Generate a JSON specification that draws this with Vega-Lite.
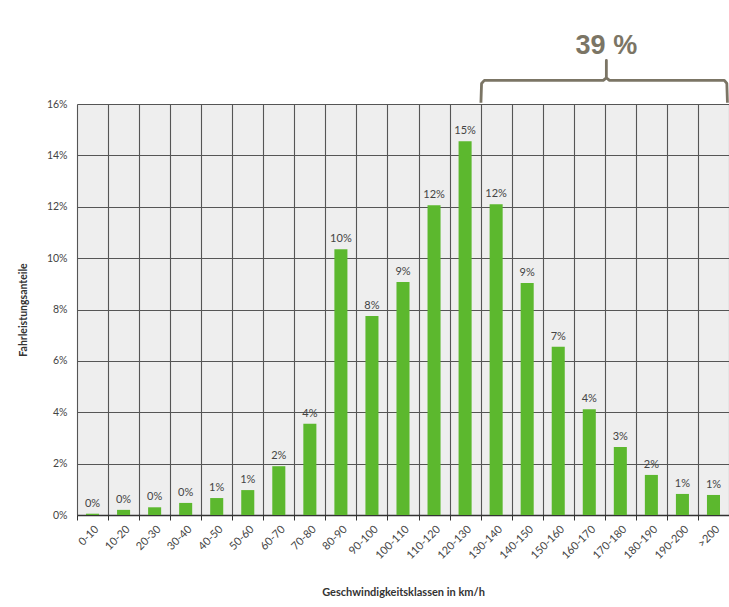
{
  "$schema": "https://vega.github.io/schema/vega-lite/v6.json",
  "width": 652,
  "height": 411,
  "autosize": {"type": "none"},
  "padding": {"left": 77, "top": 104, "right": 0, "bottom": 92},
  "background": "white",
  "config": {
    "font": "Lato",
    "view": {"fill": "#eeeeee", "stroke": null}
  },
  "resolve": {"scale": {"x": "independent"}},
  "layer": [
    {
      "data": {
        "values": [
          {"klasse": "0-10", "anteil": 0.0005},
          {"klasse": "10-20", "anteil": 0.002},
          {"klasse": "20-30", "anteil": 0.003},
          {"klasse": "30-40", "anteil": 0.0047},
          {"klasse": "40-50", "anteil": 0.0066},
          {"klasse": "50-60", "anteil": 0.0097},
          {"klasse": "60-70", "anteil": 0.019},
          {"klasse": "70-80", "anteil": 0.0355},
          {"klasse": "80-90", "anteil": 0.1035},
          {"klasse": "90-100", "anteil": 0.0775},
          {"klasse": "100-110", "anteil": 0.0907},
          {"klasse": "110-120", "anteil": 0.1206},
          {"klasse": "120-130", "anteil": 0.1455},
          {"klasse": "130-140", "anteil": 0.121},
          {"klasse": "140-150", "anteil": 0.0903},
          {"klasse": "150-160", "anteil": 0.0655},
          {"klasse": "160-170", "anteil": 0.0412},
          {"klasse": "170-180", "anteil": 0.0265},
          {"klasse": "180-190", "anteil": 0.0156},
          {"klasse": "190-200", "anteil": 0.0082},
          {"klasse": ">200", "anteil": 0.0078}
        ]
      },
      "encoding": {
        "x": {
          "field": "klasse",
          "type": "nominal",
          "sort": null,
          "scale": {"paddingInner": 0, "paddingOuter": 0},
          "axis": {
            "title": "Geschwindigkeitsklassen in km/h",
            "tickBand": "extent",
            "grid": true,
            "gridColor": "#555555",
            "gridWidth": 1.1,
            "ticks": true,
            "tickSize": 5,
            "tickColor": "#333333",
            "domainColor": "#333333",
            "domainWidth": 1.5,
            "labelAngle": -45,
            "labelFontSize": 11,
            "labelColor": "#444444",
            "labelPadding": 3,
            "titleFontSize": 11,
            "titleFontWeight": "bold",
            "titleColor": "#333333",
            "titlePadding": 26
          }
        },
        "y": {
          "field": "anteil",
          "type": "quantitative",
          "scale": {"domain": [0, 0.16], "nice": false},
          "axis": {
            "title": "Fahrleistungsanteile",
            "values": [0, 0.02, 0.04, 0.06, 0.08, 0.1, 0.12, 0.14, 0.16],
            "format": ".0%",
            "grid": true,
            "gridColor": "#555555",
            "gridWidth": 1.1,
            "ticks": false,
            "domain": false,
            "labelFontSize": 10.5,
            "labelColor": "#444444",
            "labelPadding": 10,
            "titleFontSize": 10.5,
            "titleFontWeight": "bold",
            "titleColor": "#333333",
            "titlePadding": 18
          }
        }
      },
      "layer": [
        {"mark": {"type": "bar", "color": "#5cb82e", "width": {"band": 0.42}}},
        {
          "mark": {"type": "text", "baseline": "bottom", "dy": -5, "fontSize": 11, "color": "#444444"},
          "encoding": {"text": {"field": "anteil", "type": "quantitative", "format": ".0%"}}
        }
      ]
    },
    {
      "data": {
        "values": [
          {"o": 1, "pos": 13.01, "h": 0.1605},
          {"o": 2, "pos": 13.03, "h": 0.1680},
          {"o": 3, "pos": 13.12, "h": 0.1692},
          {"o": 4, "pos": 16.95, "h": 0.1692},
          {"o": 5, "pos": 17.05, "h": 0.1702},
          {"o": 6, "pos": 17.05, "h": 0.1770},
          {"o": 7, "pos": 17.05, "h": 0.1702},
          {"o": 8, "pos": 17.15, "h": 0.1692},
          {"o": 9, "pos": 20.85, "h": 0.1692},
          {"o": 10, "pos": 20.93, "h": 0.1680},
          {"o": 11, "pos": 20.95, "h": 0.1605}
        ]
      },
      "mark": {"type": "line", "color": "#7b7565", "strokeWidth": 2.8, "strokeJoin": "round", "clip": false},
      "encoding": {
        "x": {"field": "pos", "type": "quantitative", "scale": {"domain": [0, 21], "nice": false, "zero": false}, "axis": null},
        "y": {"field": "h", "type": "quantitative", "scale": {"domain": [0, 0.16], "nice": false}},
        "order": {"field": "o", "type": "quantitative"}
      }
    },
    {
      "data": {"values": [{"pos": 17.05, "h": 0.1825, "label": "39 %"}]},
      "mark": {"type": "text", "font": "Liberation Sans", "fontWeight": "bold", "fontSize": 27, "color": "#7b7565", "baseline": "middle", "align": "center", "clip": false},
      "encoding": {
        "x": {"field": "pos", "type": "quantitative", "scale": {"domain": [0, 21], "nice": false, "zero": false}, "axis": null},
        "y": {"field": "h", "type": "quantitative", "scale": {"domain": [0, 0.16], "nice": false}},
        "text": {"field": "label"}
      }
    }
  ]
}
